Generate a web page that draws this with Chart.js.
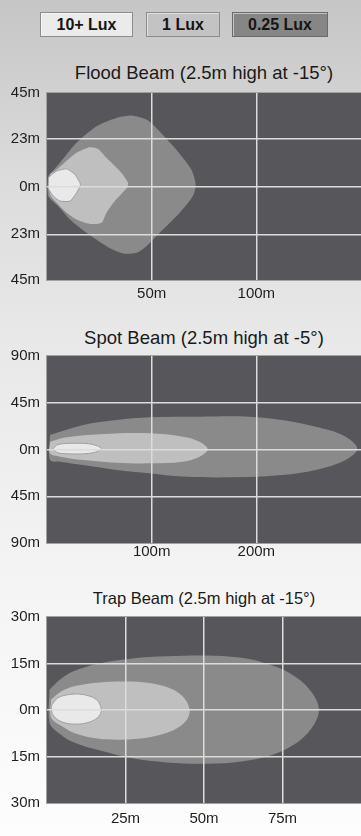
<!DOCTYPE html>
<html>
<head>
<meta charset="utf-8">
<script src="https://cdn.jsdelivr.net/npm/chart.js@4.4.1/dist/chart.umd.min.js"></script>
<style>
  body {
    margin: 0;
    width: 361px;
    height: 836px;
    position: relative;
    overflow: hidden;
    font-family: "Liberation Sans", Arial, sans-serif;
    background: linear-gradient(#c6c6c6 0%, #dcdcdc 22%, #e8e8e8 40%, #f4f4f4 70%, #fdfdfd 100%);
  }
  .leyenda {
    position: absolute;
    top: 12px;
    height: 25px;
    box-sizing: border-box;
    border: 1px solid #8c8c8c;
    box-shadow: inset 1px 1px 0 rgba(255,255,255,0.5);
    font-weight: bold;
    font-size: 16px;
    line-height: 23px;
    text-align: center;
    color: #151515;
  }
  .titulo {
    position: absolute;
    left: 47px;
    width: 314px;
    text-align: center;
    color: #1a1a1a;
    line-height: 20px;
    white-space: nowrap;
  }
  .grafico {
    position: absolute;
    left: 0;
    width: 361px;
  }
</style>
</head>
<body>

<div class="leyenda" style="left:40px;width:93px;background:#ebebeb;">10+ Lux</div>
<div class="leyenda" style="left:146px;width:74px;background:#c3c3c3;">1 Lux</div>
<div class="leyenda" style="left:232px;width:96px;background:#868686;border-color:#6a6a6a;">0.25 Lux</div>

<div class="titulo" style="top:63px;font-size:18.5px;">Flood Beam (2.5m high at -15°)</div>
<div class="grafico" style="top:77px;height:233px;"><canvas id="graficoFlood"></canvas></div>

<div class="titulo" style="top:328px;font-size:18.5px;">Spot Beam (2.5m high at -5°)</div>
<div class="grafico" style="top:340px;height:233px;"><canvas id="graficoSpot"></canvas></div>

<div class="titulo" style="top:588px;font-size:16.5px;">Trap Beam (2.5m high at -15°)</div>
<div class="grafico" style="top:601px;height:232px;"><canvas id="graficoTrap"></canvas></div>

<script>
// Contornos de iluminación, pares [distancia m, lateral m]
const floodLux10 = [[0.7,4],[1.4,5],[4.6,7.4],[9.4,8.5],[13.3,5.8],[16,1],[14.1,-3],[11,-7],[6.2,-7],[3,-4.6],[0.7,-1]];
const floodLux1 = [[1.4,6],[3.8,7.4],[9,12],[14.1,16.2],[20.5,18.9],[24.4,18.1],[28.4,13.8],[34.8,7.4],[38.7,1.8],[38.2,-0.6],[32.4,-7],[28.4,-12.7],[26,-17.5],[20.5,-18],[14.1,-15.9],[8.6,-11.9],[3.8,-7],[1.4,-3.7]];
const floodLux025 = [[0.6,5],[6.2,11.4],[14.1,21],[23.7,29],[33.2,33],[41.1,34.1],[47.5,32.2],[52.2,28.2],[61.7,17.8],[68.9,8.2],[71,1],[69.7,-4.6],[63.3,-12.7],[53.8,-22.3],[47.5,-28.7],[42.7,-31.9],[36.3,-32.2],[28.4,-28.7],[18.9,-22.3],[11,-15.9],[5.4,-9.5],[0.6,-4.6]];

const spotLux10 = [[6,0.8],[10,4.5],[20,5.9],[30,6],[40,5.5],[48,3.5],[52,0.8],[48,-2],[40,-3.8],[30,-4.3],[20,-4.2],[10,-3]];
const spotLux1 = [[2.9,7.5],[18.7,11.7],[50.5,14.6],[98,15.6],[129.8,12.3],[145.7,7.5],[153.6,0.2],[145.7,-6.9],[129.8,-11.7],[98,-13.3],[66.4,-12.7],[34.6,-10.1],[12.4,-6.9],[2.9,-3.7]];
const spotLux025 = [[2.9,14],[34.6,23.6],[66.4,28.4],[98,31],[145.7,31.6],[193.3,31.6],[225,28.4],[256.8,22],[282.2,14],[296.5,1.1],[285.4,-10.1],[256.8,-19.7],[225,-24.5],[177.5,-26.8],[129.8,-26.1],[98,-22.9],[66.4,-19.7],[34.6,-14.9],[12.4,-11.7],[2.9,-10.1]];

const trapLux10 = [[1.3,1.3],[3.4,3.9],[7.2,5],[11.4,5],[15.7,3.4],[17.3,0.2],[16.2,-2.4],[12.5,-4.2],[7.7,-4.5],[4,-3.5],[1.8,-1.4]];
const trapLux1 = [[1.3,3.4],[4.5,6],[9.3,7.8],[16.7,8.9],[25.2,9.2],[32.6,8.7],[39,7.1],[43.2,4.4],[45.4,0.2],[44.3,-3.5],[40.1,-6.6],[32.6,-8.8],[25.2,-9.5],[16.7,-9.3],[9.3,-7.7],[4.5,-5.1],[1.3,-2.4]];
const trapLux025 = [[0.8,6.6],[4,9.7],[8.2,12.4],[16.7,15],[27.3,16.6],[38,17.3],[50.7,17.6],[61.3,16.9],[69.8,15],[77.2,11.9],[83.6,6.6],[86.6,0.2],[84.1,-6.1],[78.3,-11.4],[69.8,-15.1],[59.2,-16.9],[48.6,-17.3],[38,-16.9],[27.3,-15.6],[16.7,-13],[8.2,-10.3],[3.4,-7.2],[0.8,-4]];

// Marcas de los ejes
const floodTicksX = [50, 100];
const floodTicksY = [-45, -23, 0, 23, 45];
const spotTicksX = [100, 200];
const spotTicksY = [-90, -45, 0, 45, 90];
const trapTicksX = [25, 50, 75];
const trapTicksY = [-30, -15, 0, 15, 30];

const colorLux10 = '#e9e9e9';
const colorLux1 = '#bfbfbf';
const colorLux025 = '#8a8a8a';
const fuenteEjes = { family: '"Liberation Sans", Arial, sans-serif', size: 15 };

// Pinta el fondo oscuro del área del gráfico con su borde claro
const fondoPlot = {
    id: 'fondoPlot',
    beforeDraw(chart) {
        const { ctx, chartArea } = chart;
        ctx.save();
        ctx.fillStyle = '#57575b';
        ctx.fillRect(chartArea.left, chartArea.top, chartArea.width, chartArea.height);
        ctx.strokeStyle = '#a2a2a2';
        ctx.lineWidth = 1;
        ctx.strokeRect(chartArea.left - 0.5, chartArea.top - 0.5, chartArea.width + 1, chartArea.height + 1);
        ctx.restore();
    }
};

// Convierte pares a puntos y cierra el contorno
function aPuntos(pares) {
    const puntos = pares.map(p => ({ x: p[0], y: p[1] }));
    puntos.push({ x: pares[0][0], y: pares[0][1] });
    return puntos;
}

function capa(pares, color, borde, tension) {
    return {
        data: aPuntos(pares),
        showLine: true,
        fill: 'shape',
        backgroundColor: color,
        borderColor: borde || color,
        borderWidth: borde ? 1 : 0,
        pointRadius: 0,
        tension: tension
    };
}

function crearGrafico(id, capas, xMax, yMax, ticksX, ticksY, paddingX) {
    const ctx = document.getElementById(id).getContext('2d');
    return new Chart(ctx, {
        type: 'scatter',
        data: { datasets: capas },
        plugins: [fondoPlot],
        options: {
            responsive: true,
            maintainAspectRatio: false,
            animation: false,
            layout: { padding: 0 },
            plugins: {
                legend: { display: false },
                tooltip: { enabled: false }
            },
            scales: {
                x: {
                    type: 'linear',
                    min: 0,
                    max: xMax,
                    afterBuildTicks: s => { s.ticks = ticksX.map(v => ({ value: v })); },
                    afterFit: s => { s.height = 30; },
                    grid: { color: '#dcdcdc', lineWidth: 1.5, drawTicks: false, z: 1 },
                    border: { display: false },
                    ticks: {
                        padding: paddingX,
                        color: '#1e1e1e',
                        font: fuenteEjes,
                        maxRotation: 0,
                        callback: v => v + 'm'
                    }
                },
                y: {
                    type: 'linear',
                    min: -yMax,
                    max: yMax,
                    afterBuildTicks: s => { s.ticks = ticksY.map(v => ({ value: v })); },
                    afterFit: s => { s.width = 47; },
                    grid: {
                        color: c => Math.abs(c.tick.value) === yMax ? 'rgba(0,0,0,0)' : '#dcdcdc',
                        lineWidth: 1.5,
                        drawTicks: false,
                        z: 1
                    },
                    border: { display: false },
                    ticks: {
                        padding: 7,
                        color: '#1e1e1e',
                        font: fuenteEjes,
                        callback: v => Math.abs(v) + 'm'
                    }
                }
            }
        }
    });
}

// El primer dataset se dibuja encima
crearGrafico('graficoFlood', [
    capa(floodLux10, colorLux10, '#a0a0a0', 0.2),
    capa(floodLux1, colorLux1, null, 0.25),
    capa(floodLux025, colorLux025, null, 0.25)
], 150, 45, floodTicksX, floodTicksY, 5);

crearGrafico('graficoSpot', [
    capa(spotLux10, colorLux10, '#a0a0a0', 0.35),
    capa(spotLux1, colorLux1, null, 0.35),
    capa(spotLux025, colorLux025, null, 0.35)
], 300, 90, spotTicksX, spotTicksY, 0);

crearGrafico('graficoTrap', [
    capa(trapLux10, colorLux10, '#a0a0a0', 0.35),
    capa(trapLux1, colorLux1, null, 0.35),
    capa(trapLux025, colorLux025, null, 0.35)
], 100, 30, trapTicksX, trapTicksY, 7);
</script>
</body>
</html>
